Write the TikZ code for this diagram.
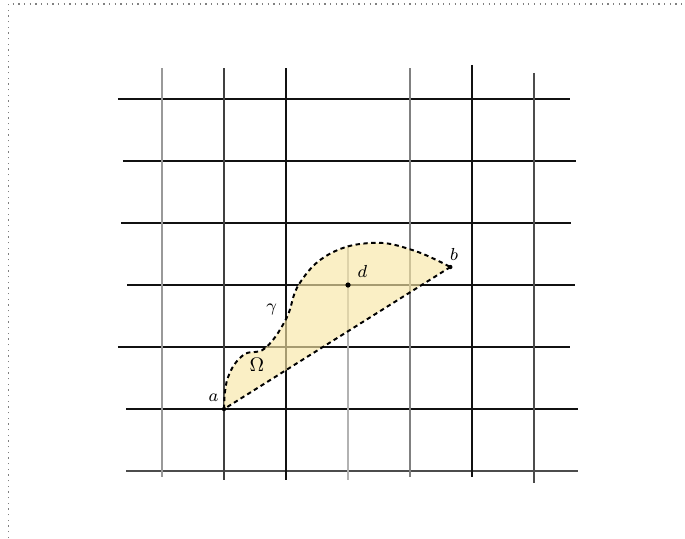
\documentclass[tikz,border=0pt]{standalone}
\usepackage{tikz}
\usetikzlibrary{positioning, calc}
\usepackage{xcolor}
\definecolor{regfill}{HTML}{F7E6A6}
\definecolor{gridblack}{HTML}{111111}

\begin{document}
\begin{tikzpicture}[
          gridline/.style={line width=1.2pt, gridblack},
          boundary/.style={line width=0.9pt, dash pattern=on 2pt off 1.6pt},
          ptlabel/.style={font=\footnotesize, inner sep=1pt}]
        \useasboundingbox (-3.613,-2.081) rectangle (7.435,6.597);
        % frame
        \draw[dotted, gray, line width=0.6pt] (-3.48,-2.081) -- (-3.48,6.53) -- (7.435,6.53);
        % grid
        \draw[gridline] (-1.71,5) -- (5.58,5);
        \draw[gridline] (-1.63,4) -- (5.68,4);
        \draw[gridline] (-1.66,3) -- (5.60,3);
        \draw[gridline] (-1.56,2) -- (5.66,2);
        \draw[gridline] (-1.71,1) -- (5.58,1);
        \draw[gridline] (-1.58,0) -- (5.71,0);
        \draw[gridline, black!70] (-1.58,-1) -- (5.71,-1);
        \draw[gridline, black!40] (-1,5.5) -- (-1,-1.1);
        \draw[gridline, black!75] (0,5.5) -- (0,-1.15);
        \draw[gridline] (1,5.5) -- (1,-1.15);
        \draw[gridline, black!30] (2,2.65) -- (2,-1.15);
        \draw[gridline, black!50] (3,5.5) -- (3,-1.1);
        \draw[gridline] (4,5.55) -- (4,-1.1);
        \draw[gridline, black!70] (5,5.42) -- (5,-1.2);
        % region
        \coordinate (a) at (0,0);
        \coordinate (b) at (3.65,2.29);
        \coordinate (d) at (2,2);
        \def\gammapath{plot[smooth, tension=0.7] coordinates {(0,0) (0.06,0.5) (0.31,0.87) (0.66,0.98) (1.0,1.45) (1.22,2.03) (1.7,2.5) (2.4,2.68) (3.05,2.56) (3.65,2.29)}}
        \fill[regfill, opacity=0.65] \gammapath -- (a);
        \draw[boundary] \gammapath;
        \draw[boundary] (b) -- (a);
        \fill (d) circle (1.2pt);
        \fill (a) circle (1pt);
        \fill (b) circle (1pt);
        % labels
        \node[ptlabel] (la) at (-0.17,0.18) {$a$};
        \node[ptlabel] (lb) at (3.71,2.5) {$b$};
        \node[ptlabel] (ld) at (2.23,2.22) {$d$};
        \node[ptlabel] (lg) at (0.77,1.6) {$\gamma$};
        \node[font=\small, inner sep=1pt] (lo) at (0.53,0.71) {$\Omega$};
      \end{tikzpicture}
\end{document}
